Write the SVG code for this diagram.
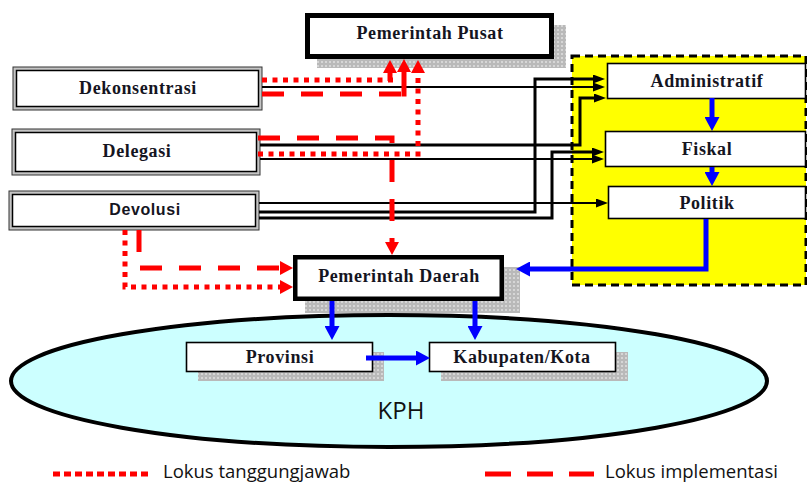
<svg xmlns="http://www.w3.org/2000/svg" width="807" height="484" viewBox="0 0 807 484">
  <style>
    .lbl { font-family: "Liberation Serif", "Times New Roman", serif; font-weight: bold; font-size: 18px; letter-spacing: 0.6px; text-anchor: middle; fill: #15151f; }
    .lbl-sans { font-family: "Liberation Sans", Arial, sans-serif; font-weight: bold; font-size: 16px; letter-spacing: 0.6px; text-anchor: middle; fill: #15151f; }
    .legend { font-family: "Open Sans", "Liberation Sans", sans-serif; font-size: 18.5px; fill: #111; }
    .shadow { fill: url(#grain); }
    .heavy { fill: #fff; stroke: #000; }
    .plain { fill: #fff; stroke: #000; stroke-width: 1.6; }
    .outer { fill: #c4c4c4; stroke: #333; stroke-width: 1; }
    .inner { fill: #fff; stroke: #000; stroke-width: 1.5; }
    .blk { fill: none; stroke: #000; marker-end: url(#ahBlack); }
    .red { fill: none; stroke: #ff0000; stroke-width: 5; }
    .dot { stroke-dasharray: 5 5.5; }
    .dash { stroke-dasharray: 22 17; }
    .blue { fill: none; stroke: #0000ff; stroke-width: 5; marker-end: url(#ahBlue); }
  </style>
  <defs>
    <pattern id="grain" width="4" height="4" patternUnits="userSpaceOnUse">
      <rect width="4" height="4" fill="#b9b9b9"/>
      <rect x="1" y="1" width="2" height="2" fill="#d6d6d6"/>
    </pattern>
    <marker id="ahBlack" viewBox="0 0 12 9" refX="0" refY="4.5" markerWidth="12" markerHeight="9" markerUnits="userSpaceOnUse" orient="auto">
      <path d="M0,0 L12,4.5 L0,9 z" fill="#000"/>
    </marker>
    <marker id="ahRed" viewBox="0 0 13 14" refX="0" refY="7" markerWidth="13" markerHeight="14" markerUnits="userSpaceOnUse" orient="auto">
      <path d="M0,0 L13,7 L0,14 z" fill="#ff0000"/>
    </marker>
    <marker id="ahBlue" viewBox="0 0 14 15" refX="0" refY="7.5" markerWidth="14" markerHeight="15" markerUnits="userSpaceOnUse" orient="auto">
      <path d="M0,0 L14,7.5 L0,15 z" fill="#0000ff"/>
    </marker>
  </defs>

  <rect width="807" height="484" fill="#fff"/>

  <!-- dimension panel -->
  <g id="panel-dimensi">
    <rect x="572" y="56" width="234" height="229" fill="#ffff00" stroke="#000" stroke-width="3" stroke-dasharray="8 5"/>
  </g>

  <!-- KPH area -->
  <g id="kph">
    <ellipse cx="389" cy="381" rx="378" ry="66" fill="#ccffff" stroke="#000" stroke-width="4"/>
    <text x="401" y="419" font-family="Open Sans, Liberation Sans, sans-serif" font-size="24" text-anchor="middle" fill="#111">KPH</text>
  </g>

  <g id="pemerintah-pusat">
    <rect class="shadow" x="317" y="25" width="249" height="43"/>
    <rect class="heavy" x="307.5" y="15.5" width="244" height="41" stroke-width="5"/>
    <text class="lbl" x="430" y="39">Pemerintah Pusat</text>
  </g>

  <g id="dekonsentrasi">
    <rect class="outer" x="13" y="67" width="249" height="43"/>
    <rect class="inner" x="16.5" y="70.5" width="242" height="36"/>
    <text class="lbl" x="138" y="94">Dekonsentrasi</text>
  </g>

  <g id="delegasi">
    <rect class="outer" x="12" y="129" width="248" height="46"/>
    <rect class="inner" x="15.5" y="132.5" width="241" height="39"/>
    <text class="lbl" x="137" y="157">Delegasi</text>
  </g>

  <g id="devolusi">
    <rect class="outer" x="9" y="191" width="250" height="39"/>
    <rect class="inner" x="12.5" y="194.5" width="243" height="32"/>
    <text class="lbl-sans" x="145" y="215">Devolusi</text>
  </g>

  <g id="administratif">
    <rect class="plain" x="607.5" y="63.5" width="198" height="35"/>
    <text class="lbl" x="707" y="87">Administratif</text>
  </g>

  <g id="fiskal">
    <rect class="plain" x="605.5" y="131.5" width="200" height="35"/>
    <text class="lbl" x="707" y="155">Fiskal</text>
  </g>

  <g id="politik">
    <rect class="plain" x="608.5" y="186.5" width="197" height="32"/>
    <text class="lbl" x="707" y="209">Politik</text>
  </g>

  <g id="pemerintah-daerah">
    <rect class="shadow" x="305" y="267" width="215" height="46"/>
    <rect class="heavy" x="295.25" y="257.25" width="206.5" height="41.5" stroke-width="4.5"/>
    <text class="lbl" x="399" y="282">Pemerintah Daerah</text>
  </g>

  <g id="provinsi">
    <rect class="shadow" x="198" y="352" width="186" height="29"/>
    <rect class="plain" x="186.5" y="342.5" width="186" height="29"/>
    <text class="lbl" x="280" y="363">Provinsi</text>
  </g>

  <g id="kabupaten-kota">
    <rect class="shadow" x="441" y="352" width="187" height="29"/>
    <rect class="plain" x="429.5" y="342.5" width="186" height="29"/>
    <text class="lbl" x="522" y="363">Kabupaten/Kota</text>
  </g>

  <g id="connectors">
    <!-- instrument to dimension links -->
    <path class="blk" stroke-width="2" d="M262,87 H593"/>
    <path class="blk" stroke-width="3" d="M259,212 H535 V79 H593"/>
    <path class="blk" stroke-width="3" d="M260,145 H580 V98 H594"/>
    <path class="blk" stroke-width="3" d="M259,218 H552 V152 H592"/>
    <path class="blk" stroke-width="2" d="M260,159 H592"/>
    <path class="blk" stroke-width="2" d="M259,203 H596"/>

    <!-- responsibility (dotted) and implementation (dashed) loci -->
    <path class="red dot" d="M262,80 H396"/>
    <path class="red" d="M390,81 V73" marker-end="url(#ahRed)"/>
    <path class="red dash" d="M262,94 H404"/>
    <path class="red" d="M404,96.5 V72" marker-end="url(#ahRed)"/>
    <path class="red dot" d="M258,154 H418 V73" marker-end="url(#ahRed)"/>
    <path class="red dash" d="M258,138 H392 V242" marker-end="url(#ahRed)"/>
    <path class="red dash" d="M139,230 V268 H280" marker-end="url(#ahRed)"/>
    <path class="red dot" d="M125,230 V287 H280" marker-end="url(#ahRed)"/>

    <!-- flow between dimensions and levels of government -->
    <path class="blue" d="M712,98 V117"/>
    <path class="blue" d="M712,167 V172"/>
    <path class="blue" d="M706,219 V269 H530"/>
    <path class="blue" d="M332,301 V326"/>
    <path class="blue" d="M475,301 V326"/>
    <path class="blue" d="M366,358 H416"/>
  </g>

  <g id="legend">
    <path class="red" d="M53,474 H152" stroke-width="7" stroke-dasharray="7 4"/>
    <text class="legend" x="163" y="478">Lokus tanggungjawab</text>
    <path class="red" d="M485,474 H594" stroke-width="7" stroke-dasharray="26 16"/>
    <text class="legend" x="605" y="478">Lokus implementasi</text>
  </g>
</svg>
